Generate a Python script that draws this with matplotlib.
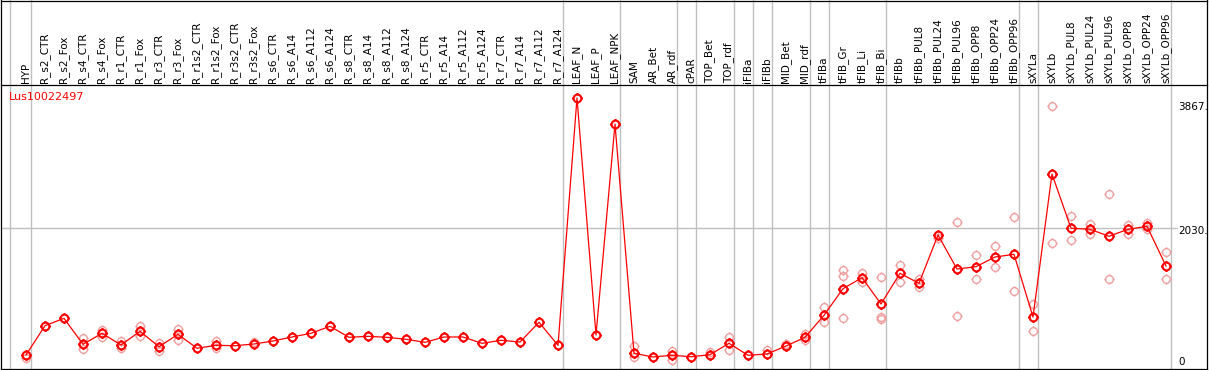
import numpy as np
import matplotlib.pyplot as plt
from matplotlib.path import Path
from matplotlib.lines import Line2D
from matplotlib.transforms import blended_transform_factory

# sample names (x categories)
samples = ['HYP', 'R_s2_CTR', 'R_s2_Fox', 'R_s4_CTR', 'R_s4_Fox', 'R_r1_CTR', 'R_r1_Fox',
           'R_r3_CTR', 'R_r3_Fox', 'R_r1s2_CTR', 'R_r1s2_Fox', 'R_r3s2_CTR', 'R_r3s2_Fox',
           'R_s6_CTR', 'R_s6_A14', 'R_s6_A112', 'R_s6_A124', 'R_s8_CTR', 'R_s8_A14',
           'R_s8_A112', 'R_s8_A124', 'R_r5_CTR', 'R_r5_A14', 'R_r5_A112', 'R_r5_A124',
           'R_r7_CTR', 'R_r7_A14', 'R_r7_A112', 'R_r7_A124', 'LEAF_N', 'LEAF_P', 'LEAF_NPK',
           'SAM', 'AR_Bet', 'AR_rdf', 'cPAR', 'TOP_Bet', 'TOP_rdf', 'iFIBa', 'iFIBb',
           'MID_Bet', 'MID_rdf', 'tFIBa', 'tFIB_Gr', 'tFIB_Li', 'tFIB_Bi', 'tFIBb',
           'tFIBb_PUL8', 'tFIBb_PUL24', 'tFIBb_PUL96', 'tFIBb_OPP8', 'tFIBb_OPP24',
           'tFIBb_OPP96', 'sXYLa', 'sXYLb', 'sXYLb_PUL8', 'sXYLb_PUL24', 'sXYLb_PUL96',
           'sXYLb_OPP8', 'sXYLb_OPP24', 'sXYLb_OPP96']

# mean expression per sample
means = [106, 550, 662, 268, 435, 258, 465, 232, 420, 208, 253, 247, 273,
         318, 379, 435, 541, 374, 389, 374, 344, 298, 379, 379, 283, 329, 303, 602, 253,
         4000, 409, 3606,
         132, 76, 102, 80, 111, 283, 102, 121, 242, 374,
         708, 1111, 1277, 879, 1344, 1192, 1924, 1409, 1444, 1591, 1632,
         682, 2848, 2026, 2011, 1905, 2011, 2056, 1455]

# replicate values (sample index, value)
rep_idx = [0, 3, 3, 4, 4, 5, 5, 6, 6, 7, 7, 8, 8, 10, 10, 12,
           32, 32, 34, 34, 36, 37, 37, 39, 40, 41, 41, 42, 42, 43, 43, 43, 44, 44,
           45, 45, 45, 46, 46, 47, 47, 48, 49, 49, 50, 50, 51, 51, 52, 52, 53, 53,
           54, 54, 55, 55, 56, 56, 57, 57, 58, 58, 59, 59, 60, 60]
rep_val = [56, 359, 192, 485, 383, 323, 208, 545, 394, 292, 171, 495, 333, 318, 208, 308,
           242, 80, 171, 30, 156, 383, 182, 182, 273, 424, 333, 838, 611, 1394, 1303, 662,
           1353, 1217, 1292, 677, 647, 1470, 1208, 1141, 1258, 1874, 2117, 697, 1617, 1258,
           1753, 1439, 2192, 1071, 883, 470, 1798, 3879, 2208, 1844, 2091, 1944, 2545, 1253,
           2071, 1944, 2111, 2011, 1662, 1253]

# last sample of each group (gray separators)
group_ends = [-1.08, 0, 28, 31, 34, 35, 37, 38, 39, 41, 42, 45, 52, 53, 60]
ytick_vals = [0, 2030, 3867]
ytick_txt = ['0', '2030.', '3867.']
gene = 'Lus10022497'

W, H = 1209, 370
fig = plt.figure(figsize=(W / 100, H / 100), dpi=100)
plt.rcParams['font.family'] = 'DejaVu Sans'

# data area in pixels: x 1..1207, y 85..369
ax = fig.add_axes([1 / W, 1 - 369 / H, 1206 / W, 284 / H])
x = np.arange(len(samples))
ax.set_xlim((1 - 26) / 19, (1207 - 26) / 19)
ax.set_ylim(-106, 4197)

# circle marker with small ticks
circ = Path.unit_circle()
tick_v = [[0, 1], [0, 1.35], [0, -1], [0, -1.35], [1, 0], [1.35, 0], [-1, 0], [-1.35, 0]]
tick_c = [Path.MOVETO, Path.LINETO] * 4
mk = Path.make_compound_path(circ, Path(tick_v, tick_c))

ax.plot(rep_idx, rep_val, ls='', marker=mk, ms=7.5, mfc='none', mec='#f0a0a0', mew=1.0, zorder=3)
ax.plot(x, means, color='red', lw=0.9, zorder=4)
ax.plot(x, means, ls='', marker=mk, ms=7.5, mfc='none', mec='red', mew=1.5, zorder=5)

# gray separators through header
bt = blended_transform_factory(ax.transData, ax.transAxes)
for g in group_ends:
    ax.plot([g + 0.24, g + 0.24], [0, 369 / 284], transform=bt, color='#c0c0c0',
            lw=1, clip_on=False, zorder=1)
ax.axhline(2030, xmax=(1177 - 1) / 1206, color='#c0c0c0', lw=1, zorder=1)

# labels on top
ax.xaxis.tick_top()
ax.set_xticks(x)
ax.set_xticklabels(samples, rotation=90, fontsize=7.5, va='bottom', ha='center')
ax.tick_params(axis='x', length=0, pad=1.5)
ax.set_yticks([])
for s in ['left', 'right', 'bottom']:
    ax.spines[s].set_visible(False)
ax.spines['top'].set_linewidth(0.9)

# value labels on right
yt = blended_transform_factory(ax.transAxes, ax.transData)
for v, t in zip(ytick_vals, ytick_txt):
    off = -45 if v == 2030 else 0
    ax.text((1178 - 1) / 1206, v + off, t, transform=yt, fontsize=7.5, va='center', ha='left')

fig.text(9 / W, 1 - 97 / H, gene, fontsize=8, color='red', va='center', ha='left')

# outer frame
for xs, ys in [([1, 1207], [0.5, 0.5]), ([1, 1207], [368.5, 368.5]),
               ([1, 1], [0, 369]), ([1207, 1207], [0, 369])]:
    fig.add_artist(Line2D([a / W for a in xs], [1 - b / H for b in ys],
                          color='black', lw=0.9, transform=fig.transFigure))

fig.savefig('out.png', dpi=100)
